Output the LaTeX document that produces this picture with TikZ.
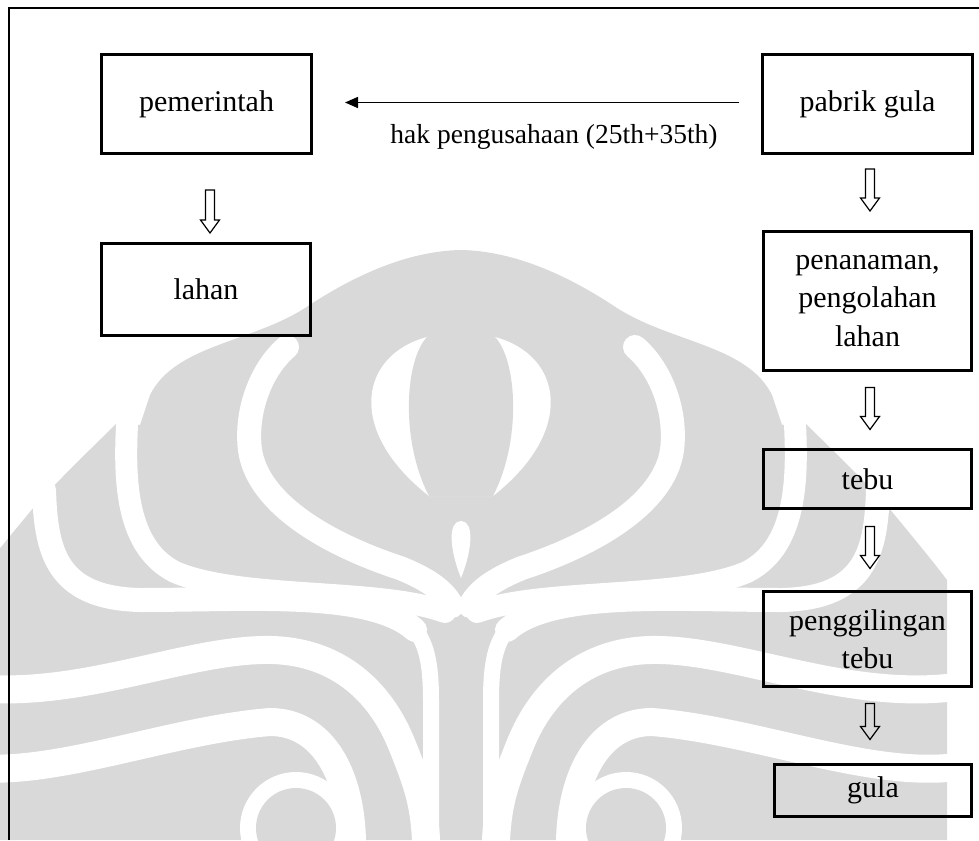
\documentclass[tikz,border=0pt]{standalone}
\usepackage{fontspec}
\setmainfont{Liberation Serif}
\usetikzlibrary{arrows.meta,calc}

\tikzset{
  wmgray/.style={fill=black!15},
  wmband/.style={draw=white, line cap=round},
  box/.style={draw, line width=3pt, inner sep=0pt, align=center,
              font=\fontsize{30}{38.5}\selectfont},
  pics/hollowdown/.style={code={
    \draw[line width=1.2pt, line join=miter]
      (-4.5,0) -- (-4.5,#1-13) -- (-9.5,#1-13) -- (0,#1) -- (9.5,#1-13)
      -- (4.5,#1-13) -- (4.5,0) -- cycle;}},
}

% one half of the background emblem (left side, mirrored for the right)
\newcommand{\makarahalf}{%
  \fill[wmgray] (461,250) .. controls (405,251) and (350,278) .. (305,308)
     .. controls (250,343) and (175,345) .. (150,395) -- (140,425) -- (119,421)
     .. controls (95,445) and (70,468) .. (34,507)
     .. controls (15,530) and (-10,560) .. (-25,580) -- (-25,840) -- (461,840) -- cycle;
  \draw[wmband, line width=24pt] (287,347) .. controls (262,368) and (245,410) .. (250,450)
     .. controls (258,505) and (330,545) .. (400,568) .. controls (430,580) and (445,592) .. (452,606);
  \draw[wmband, line width=22pt] (128,408) .. controls (124,470) and (122,545) .. (175,572)
     .. controls (240,600) and (380,588) .. (445,612);
  \draw[wmband, line width=24pt] (44,490) .. controls (46,550) and (55,598) .. (140,600)
     .. controls (250,600) and (370,590) .. (415,630);
  \draw[wmband, line width=16pt] (415,630) .. controls (428,645) and (431,670) .. (431,700) -- (431,840);
  \draw[wmband, line width=28pt] (-25,688) .. controls (80,698) and (180,652) .. (262,650)
     .. controls (335,648) and (380,690) .. (402,745) .. controls (416,780) and (424,800) .. (426,840);
  \draw[wmband, line width=28pt] (-25,768) .. controls (60,775) and (170,730) .. (270,722)
     .. controls (320,722) and (350,770) .. (352,840);
  \fill[white] (296,828) circle[radius=56pt];
  \fill[wmgray] (296,828) circle[radius=40pt];
}

\begin{document}
\begin{tikzpicture}[x=1pt,y=-1pt]
\useasboundingbox (0,0) rectangle (979,840);

% background emblem
\begin{scope}
  \clip (0,0) rectangle (979,840);
  \makarahalf
  \begin{scope}[xshift=922pt, xscale=-1]
    \makarahalf
  \end{scope}
  % central eye and drop
  \fill[white] (427,337) .. controls (360,355) and (345,430) .. (429,496) -- (493,496)
     .. controls (577,430) and (562,355) .. (495,337) -- cycle;
  \fill[wmgray] (427,337) .. controls (405,360) and (400,440) .. (429,496) -- (493,496)
     .. controls (522,440) and (517,360) .. (495,337) -- cycle;
  \fill[white] (461,521) .. controls (448,521) and (449,548) .. (461,578)
     .. controls (473,548) and (474,521) .. (461,521) -- cycle;
\end{scope}

% outer frame
\draw[line width=1.6pt] (9,840) -- (9,8) -- (979,8);

% boxes
\node[box, minimum width=210pt, minimum height=99pt] (pemerintah) at (206.5,104) {pemerintah};
\node[box, minimum width=210pt, minimum height=99pt] (pabrik) at (867.5,104) {pabrik gula};
\node[box, minimum width=209pt, minimum height=92pt] (lahan) at (206,289.5) {lahan};
\node[box, minimum width=208pt, minimum height=139pt] (tanam) at (867.5,301) {penanaman,\\pengolahan\\lahan};
\node[box, minimum width=208pt, minimum height=59pt] (tebu) at (867.5,479) {tebu};
\node[box, minimum width=208pt, minimum height=95pt] (giling) at (867.5,639) {penggilingan\\tebu};
\node[box, minimum width=197pt, minimum height=52pt] (gula) at (873,790.5) {gula};

% concession arrow with its label
\draw[line width=1.5pt, -{Triangle[length=13pt,width=11pt]}, shorten <=22pt, shorten >=32pt]
  ([yshift=1.5pt]pabrik.west) -- ([yshift=1.5pt]pemerintah.east);
\node[anchor=base, font=\fontsize{27.5}{33}\selectfont] (hak) at (554,143) {hak pengusahaan (25th+35th)};

% hollow flow arrows
\pic at ($(pemerintah.south)+(3.5,35)$) {hollowdown=43};
\pic at ($(pabrik.south)+(2.5,14)$) {hollowdown=42};
\pic at ($(tanam.south)+(2.5,15.5)$) {hollowdown=42};
\pic at ($(tebu.south)+(2.5,16.5)$) {hollowdown=42};
\pic at ($(giling.south)+(2.5,15.5)$) {hollowdown=36};
\end{tikzpicture}
\end{document}
